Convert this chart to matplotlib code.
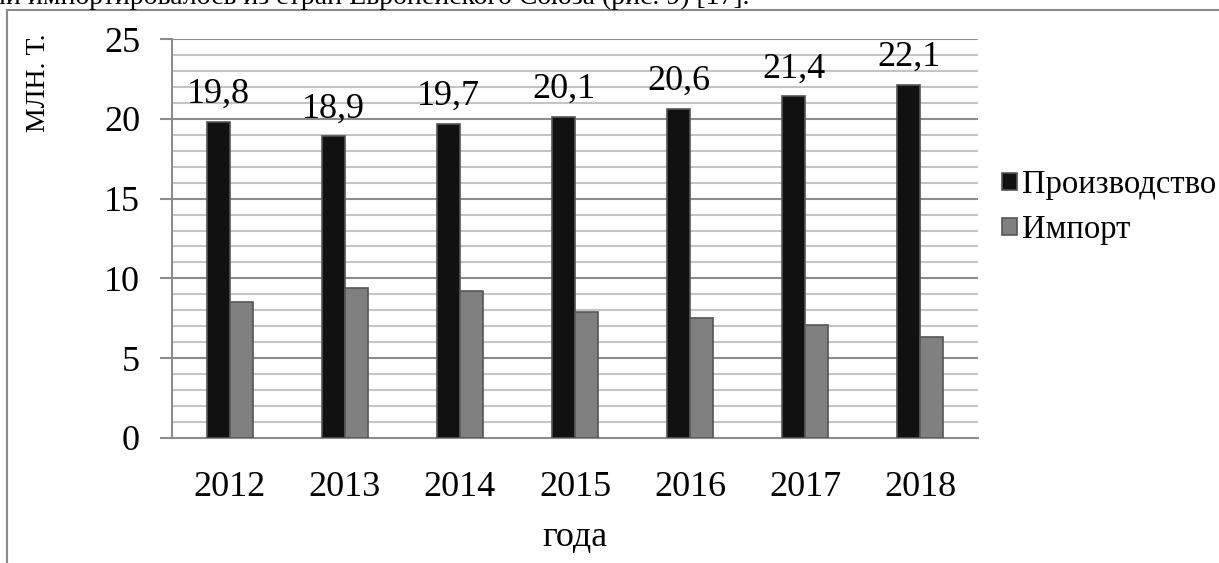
import matplotlib
matplotlib.use("Agg")
import matplotlib.pyplot as plt
import numpy as np

years = ["2012", "2013", "2014", "2015", "2016", "2017", "2018"]
production = [19.8, 18.9, 19.7, 20.1, 20.6, 21.4, 22.1]
imports = [8.5, 9.4, 9.2, 7.9, 7.5, 7.1, 6.3]
prod_labels = ["19,8", "18,9", "19,7", "20,1", "20,6", "21,4", "22,1"]
series_names = ["Производство", "Импорт"]
y_label = "МЛН. Т."
x_label = "года"
top_text = "ли импортировалось из стран Европейского Союза (рис. 9) [17]."

plt.rcParams['font.family'] = ['Liberation Serif', 'DejaVu Serif']

W, H = 1219, 563
fig = plt.figure(figsize=(W / 100, H / 100), dpi=100)

# outer frame lines
fig.add_artist(plt.Line2D([7 / W, 7 / W], [0, 1 - 10 / H], transform=fig.transFigure,
                          color='#8a8a8a', lw=1.5))
fig.add_artist(plt.Line2D([7 / W, 1], [1 - 10 / H, 1 - 10 / H], transform=fig.transFigure,
                          color='#8a8a8a', lw=1.5))
fig.text(-8 / W, 1 - 4 / H, top_text, fontsize=20, va='baseline', ha='left')

ax = fig.add_axes([172 / W, 125 / H, (978 - 172) / W, 399 / H])
x = np.arange(len(years))
bw = 0.2
ax.set_xlim(-0.5, len(years) - 0.5)
ax.set_ylim(0, 25)

for v in range(1, 25):
    if v % 5:
        ax.axhline(v, color='#c4c4c4', lw=1.5, zorder=0)
for v in range(5, 26, 5):
    ax.axhline(v, color='#8c8c8c', lw=1.5, zorder=0)

ax.bar(x - bw / 2, production, bw, color='#111111', edgecolor='#555555', lw=1.2, zorder=3,
       label=series_names[0])
ax.bar(x + bw / 2, imports, bw, color='#808080', edgecolor='#555555', lw=1.2, zorder=3,
       label=series_names[1])

for xi, v, lab in zip(x, production, prod_labels):
    ax.annotate(lab, (xi - bw / 2, v), xytext=(0, 8), textcoords='offset points',
                ha='center', va='bottom', fontsize=26)

for s in ['top', 'right']:
    ax.spines[s].set_visible(False)
ax.spines['left'].set_color('#8c8c8c')
ax.spines['left'].set_linewidth(1.5)
ax.spines['bottom'].set_color('#8c8c8c')
ax.spines['bottom'].set_linewidth(1.5)

ax.set_yticks(range(0, 26, 5))
ax.set_yticklabels([str(v) for v in range(0, 26, 5)], fontsize=26)
ax.tick_params(axis='y', length=9, width=1.5, color='#8c8c8c', pad=14, direction='out')
ax.set_xticks(x)
ax.set_xticklabels(years, fontsize=26)
ax.tick_params(axis='x', length=0, pad=24)
ax.set_xlabel(x_label, fontsize=26, labelpad=12)
ax.set_ylabel(y_label, fontsize=20)
ax.yaxis.set_label_coords(-0.150, 0.89)

leg = ax.legend(loc='center left', bbox_to_anchor=(1.03, 0.578), frameon=False,
                fontsize=23.5, handlelength=0.45, handleheight=0.45, handletextpad=0.15,
                labelspacing=0.45, borderaxespad=0, borderpad=0)

fig.savefig("out.png", dpi=100)
